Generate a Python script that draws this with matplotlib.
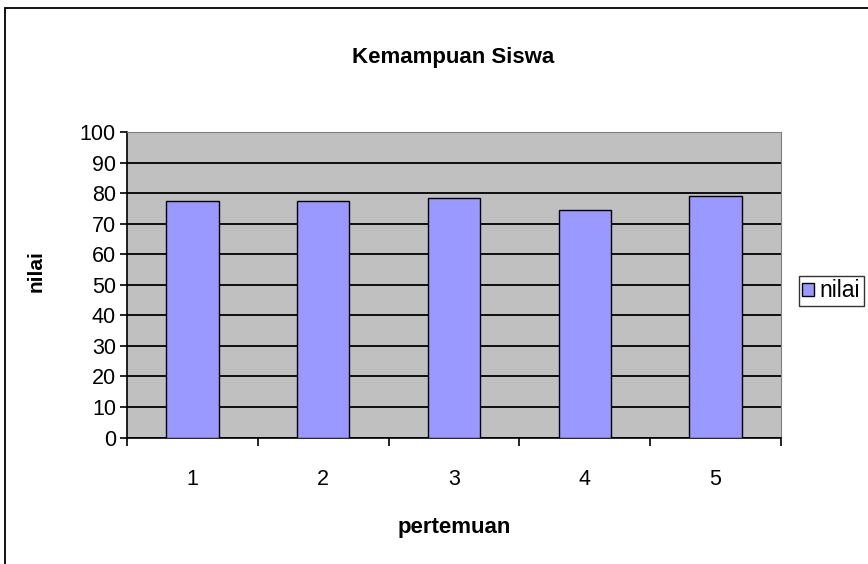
import matplotlib
matplotlib.use("agg")
import matplotlib.pyplot as plt
from matplotlib.patches import Rectangle

# data
pertemuan = ['1', '2', '3', '4', '5']
nilai = [77.3, 77.3, 78.5, 74.6, 79.0]
y_ticks = [0, 10, 20, 30, 40, 50, 60, 70, 80, 90, 100]

plt.rcParams['font.family'] = ['Liberation Sans', 'DejaVu Sans']

fig = plt.figure(figsize=(8.68, 5.64), dpi=100)
W, H = 868.0, 564.0

# chart area border (runs off the right and bottom edge)
fig.patches.append(Rectangle((5 / W, -0.05), 1.0, 1 - 8 / H + 0.05,
                             transform=fig.transFigure, fill=False,
                             edgecolor='black', lw=1.3, zorder=0))

ax = fig.add_axes([127 / W, 1 - 437.5 / H, (781 - 127) / W, (437.5 - 132) / H])
ax.set_facecolor('#C0C0C0')

xs = list(range(len(pertemuan)))
ax.bar(xs, nilai, width=0.4, color='#9999FF', edgecolor='black', lw=1.0,
       label='nilai', zorder=3)

ax.set_xlim(-0.5, len(pertemuan) - 0.5)
ax.set_ylim(0, 100)

# category boundaries as tick marks, labels in the centre
ax.set_xticks([x - 0.5 for x in range(len(pertemuan) + 1)])
ax.set_xticklabels([])
ax.set_xticks(xs, minor=True)
ax.set_xticklabels(pertemuan, minor=True, fontsize=15.5)
ax.tick_params(axis='x', which='major', direction='out', length=6, width=1.2)
ax.tick_params(axis='x', which='minor', length=0, pad=23)

ax.set_yticks(y_ticks)
ax.set_yticklabels([str(y) for y in y_ticks], fontsize=15.5)
ax.tick_params(axis='y', direction='out', length=5, width=1.2, pad=3)

ax.yaxis.grid(True, color='black', lw=1.3, zorder=1)
ax.set_axisbelow(True)

ax.spines['left'].set_color('black')
ax.spines['bottom'].set_color('black')
ax.spines['left'].set_linewidth(1.2)
ax.spines['bottom'].set_linewidth(1.2)
ax.spines['top'].set_color('#808080')
ax.spines['right'].set_color('#808080')

fig.text(453 / W, 1 - 57 / H, 'Kemampuan Siswa', fontsize=16,
         fontweight='bold', ha='center', va='center')
fig.text(454 / W, 1 - 528 / H, 'pertemuan', fontsize=16,
         fontweight='bold', ha='center', va='center')
fig.text(36 / W, 1 - 271 / H, 'nilai', fontsize=15, fontweight='bold',
         rotation=90, ha='center', va='center')

leg = fig.legend(loc='upper left', bbox_to_anchor=(799 / W, 1 - 276 / H),
                 prop={'size': 16.5}, frameon=True, fancybox=False,
                 handlelength=0.5, handleheight=0.5, handletextpad=0.25,
                 borderpad=0.15, borderaxespad=0)
leg.get_frame().set_edgecolor('black')
leg.get_frame().set_linewidth(1.0)

plt.savefig('out.png', dpi=100)
